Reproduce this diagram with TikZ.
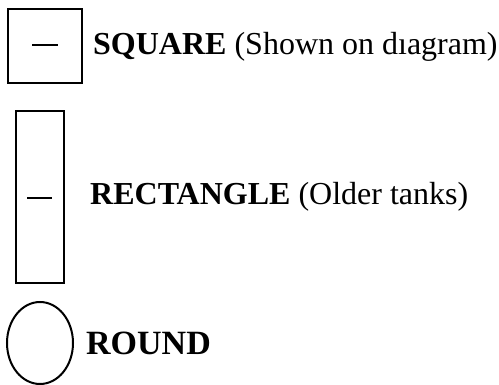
\documentclass[tikz,border=0pt]{standalone}
\usepackage{fontspec}
\setmainfont{Liberation Serif}
\begin{document}
\begin{tikzpicture}[x=1pt,y=-1pt,
  shapeline/.style={draw=black,line width=2pt},
  dashmark/.style={draw=black,line width=2.6pt},
  lbl/.style={anchor=base west,inner sep=0pt,font=\fontsize{32}{38}\selectfont}]
\useasboundingbox (0,0) rectangle (499,385);
% square
\draw[shapeline] (8,9) rectangle (82,83);
\coordinate (sqa) at (32,45);
\coordinate (sqb) at (58,45);
\draw[dashmark] (sqa) -- (sqb);
\node[lbl] (sqlbl) at (93,55) {\textbf{SQUARE} (Shown on dıagram)};
% rectangle
\draw[shapeline] (16,111) rectangle (64,283);
\coordinate (rea) at (27,198);
\coordinate (reb) at (52,198);
\draw[dashmark] (rea) -- (reb);
\node[lbl] (relbl) at (90,205) {\textbf{RECTANGLE} (Older tanks)};
% round
\draw[shapeline] (40,343) ellipse [x radius=33, y radius=41];
\node[lbl,font=\fontsize{34}{40}\selectfont] (rdlbl) at (86,355) {\textbf{ROUND}};
\end{tikzpicture}
\end{document}
